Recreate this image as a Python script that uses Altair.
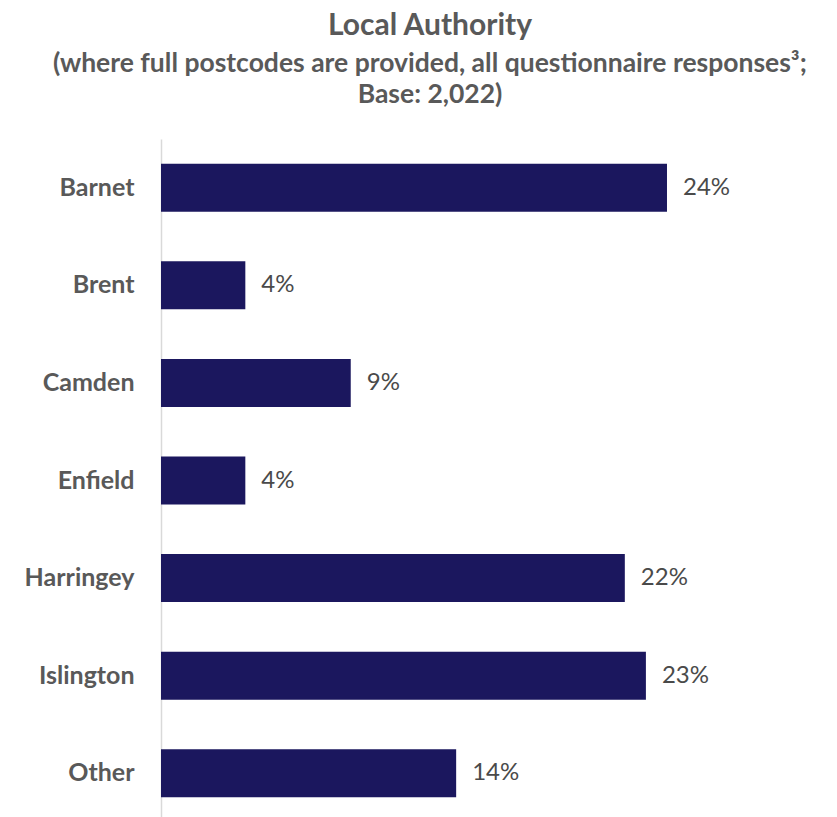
import altair as alt
import pandas as pd

categories = ["Barnet", "Brent", "Camden", "Enfield", "Harringey", "Islington", "Other"]
values = [24, 4, 9, 4, 22, 23, 14]
labels = ["24%", "4%", "9%", "4%", "22%", "23%", "14%"]

df = pd.DataFrame({"cat": categories, "val": values, "lab": labels})

TEXT = "#595959"
BAR = "#1b175e"
FONT = "Lato"

y_enc = alt.Y(
    "cat:N",
    sort=categories,
    title=None,
    scale=alt.Scale(paddingInner=0.508, paddingOuter=0.254),
    axis=alt.Axis(
        labelFont=FONT,
        labelFontSize=25,
        labelFontWeight="bold",
        labelColor=TEXT,
        labelPadding=27,
        ticks=False,
        domainColor="#d9d9d9",
        domainWidth=1.5,
        grid=False,
    ),
)
x_enc = alt.X(
    "val:Q",
    title=None,
    scale=alt.Scale(domain=[0, 24.38], nice=False, zero=True),
    axis=None,
)

bars = alt.Chart(df).mark_bar(color=BAR).encode(x=x_enc, y=y_enc)
text = alt.Chart(df).mark_text(
    align="left", baseline="middle", dx=16, font=FONT, fontSize=24, color="#4a4a4a"
).encode(x=x_enc, y=y_enc, text="lab:N")

chart = (
    alt.layer(bars, text)
    .properties(
        width=514,
        height=683,
        background="white",
        autosize=alt.AutoSizeParams(type="none"),
        padding={"left": 153, "top": 131, "right": 154, "bottom": 0},
        title=alt.TitleParams(
            text="Local Authority",
            subtitle=[
                "(where full postcodes are provided, all questionnaire responses³;",
                "Base: 2,022)",
            ],
            anchor="middle",
            dx=12,
            font=FONT,
            fontSize=30,
            fontWeight="bold",
            color=TEXT,
            subtitleFont=FONT,
            subtitleFontSize=26.5,
            subtitleFontWeight="bold",
            subtitleColor=TEXT,
            subtitleLineHeight=31,
            subtitlePadding=10,
            offset=31,
        ),
    )
    .configure_view(strokeWidth=0, strokeOpacity=0)
)

chart.save("out.html", embed_options={"renderer": "svg", "actions": False})
